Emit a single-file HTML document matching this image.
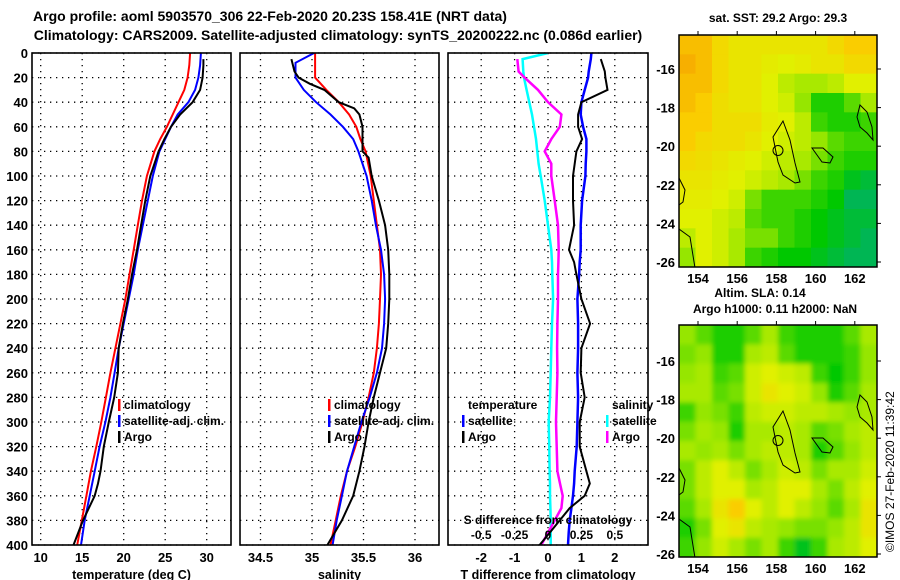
<!DOCTYPE html>
<html><head><meta charset="utf-8">
<style>
html,body{margin:0;padding:0;background:#fff;}
svg{display:block;font-family:"Liberation Sans",Arial,sans-serif;font-weight:bold;}
</style></head>
<body>
<svg id="fig" width="900" height="580" viewBox="0 0 900 580">
<defs>
<clipPath id="c1"><rect x="32" y="53" width="199" height="492"/></clipPath>
<clipPath id="c2"><rect x="240" y="53" width="199" height="492"/></clipPath>
<clipPath id="c3"><rect x="448" y="53" width="200" height="492"/></clipPath>
<clipPath id="m1c"><rect x="679" y="35" width="198" height="232"/></clipPath>
<clipPath id="m2c"><rect x="679" y="325" width="198" height="232"/></clipPath>
<filter id="bl" x="-5%" y="-5%" width="110%" height="110%"><feGaussianBlur stdDeviation="2.5"/></filter>
</defs>
<text x="270" y="21" font-size="14" text-anchor="middle">Argo profile: aoml 5903570_306 22-Feb-2020 20.23S 158.41E (NRT data)</text>
<text x="338" y="40" font-size="14" text-anchor="middle">Climatology: CARS2009. Satellite-adjusted climatology: synTS_20200222.nc (0.086d earlier)</text>
<g id="p1"></g>
<g id="p2"></g>
<g id="p3"></g>
<g id="m1"></g>
<g id="m2"></g>
<text x="778" y="22" font-size="12" text-anchor="middle">sat. SST: 29.2 Argo: 29.3</text>
<text x="760" y="297" font-size="12" text-anchor="middle">Altim. SLA: 0.14</text>
<text x="775" y="313" font-size="12" text-anchor="middle">Argo h1000: 0.11 h2000: NaN</text>
<text transform="translate(894,552) rotate(-90)" font-size="12" font-weight="normal">©IMOS 27-Feb-2020 11:39:42</text>
</svg>
<script>
// ---- data ----
const depthT = [0,10,20,30,40,50,60,70,80,100,120,140,160,180,200,220,240,260,280,300,320,340,360,380,400];
const tempClim = [28.0,27.9,27.7,27.3,26.6,25.9,25.2,24.4,23.7,22.8,22.2,21.7,21.2,20.7,20.2,19.6,19.0,18.4,17.85,17.3,16.7,16.05,15.5,14.95,14.4];
const tempSat = [29.3,29.2,29.0,28.6,27.8,26.5,25.7,25.0,24.3,23.5,22.9,22.3,21.7,21.2,20.6,20.0,19.4,18.9,18.4,17.8,17.1,16.5,15.9,15.3,14.85];
const depthA = [5,10,20,30,40,50,60,70,80,100,120,140,160,180,200,220,240,260,280,300,320,340,350,360,380,400];
const tempArgo = [29.6,29.6,29.5,29.2,28.3,26.8,25.7,24.9,24.2,23.2,22.6,22.1,21.6,21.0,20.5,19.9,19.4,19.3,18.85,18.2,17.6,17.2,16.9,16.5,15.1,13.95];
const depthS = [0,8,20,30,40,50,60,70,80,100,120,140,160,180,200,220,240,260,280,300,320,340,360,380,400];
const salClim = [35.03,35.03,35.03,35.14,35.26,35.36,35.43,35.47,35.52,35.57,35.6,35.63,35.66,35.67,35.66,35.65,35.63,35.6,35.55,35.49,35.42,35.34,35.28,35.23,35.18];
const salSat = [35.02,34.84,34.84,34.92,35.04,35.18,35.3,35.4,35.45,35.53,35.58,35.62,35.67,35.7,35.71,35.7,35.68,35.63,35.56,35.48,35.41,35.34,35.29,35.24,35.2];
const depthSA = [5,15,20,25,30,40,45,50,60,80,85,100,120,140,160,180,200,220,240,260,280,300,320,340,360,380,400];
const salArgo = [34.8,34.83,34.87,34.98,35.12,35.26,35.41,35.46,35.49,35.49,35.55,35.58,35.65,35.71,35.74,35.75,35.75,35.74,35.72,35.66,35.6,35.55,35.51,35.46,35.4,35.29,35.15];
const depthD = [0,5,15,20,30,40,50,60,70,80,90,100,120,140,160,170,180,200,220,240,260,280,300,320,340,350,360,370,380,390,400];
const dTsat = [1.3,1.28,1.22,1.2,1.1,1.0,0.98,1.05,1.15,1.15,1.13,1.12,1.02,0.98,0.98,0.95,0.93,0.88,0.9,0.9,0.88,0.9,0.88,0.86,0.8,0.78,0.75,0.7,0.65,0.62,0.6];
const dTargo = [null,1.58,1.7,1.72,1.78,1.0,0.9,0.9,1.02,0.85,0.8,0.75,0.75,0.78,0.63,0.78,0.85,1.0,1.26,1.0,0.98,1.1,0.95,0.95,1.15,1.25,1.1,0.65,0.35,0.05,-0.25];
const dSsat = [0,-0.19,-0.185,-0.18,-0.16,-0.14,-0.12,-0.105,-0.09,-0.08,-0.07,-0.055,-0.025,0,0.025,0.03,0.032,0.038,0.03,0.025,0.02,0.015,0.005,0.01,0.012,0.015,0.015,0.018,0.02,0.02,0.02];
const dSargo = [null,-0.23,-0.22,-0.175,-0.075,0,0.1,0.088,0.025,-0.025,0.025,0.025,0.05,0.075,0.08,0.078,0.075,0.075,0.07,0.068,0.07,0.065,0.06,0.065,0.07,0.09,0.11,0.1,0.05,0.0,-0.05];
const depthTicks = [0,20,40,60,80,100,120,140,160,180,200,220,240,260,280,300,320,340,360,380,400];
const tempTicks = [10,15,20,25,30];
const salTicks = [34.5,35,35.5,36];
const salTickLabels = ["34.5","35","35.5","36"];
const dTTicks = [-2,-1,0,1,2];
const dSTicks = [-0.5,-0.25,0,0.25,0.5];
const dSTickLabels = ["-0.5","-0.25","0","0.25","0.5"];
const lonTicks = [154,156,158,160,162];
const latTicks = [-16,-18,-20,-22,-24,-26];
const sstGrid = [
[0.9,0.9,0.8,0.75,0.75,0.75,0.75,0.75,0.75,0.8,0.85,0.85],
[0.95,0.9,0.8,0.75,0.75,0.72,0.7,0.72,0.75,0.75,0.8,0.8],
[0.9,0.9,0.8,0.75,0.75,0.7,0.6,0.55,0.55,0.6,0.7,0.7],
[0.9,0.85,0.78,0.75,0.75,0.7,0.65,0.5,0.3,0.3,0.4,0.55],
[0.85,0.85,0.78,0.78,0.78,0.72,0.7,0.6,0.35,0.3,0.3,0.35],
[0.85,0.8,0.78,0.78,0.75,0.7,0.65,0.6,0.5,0.4,0.35,0.35],
[0.8,0.78,0.75,0.72,0.7,0.65,0.6,0.55,0.45,0.35,0.3,0.3],
[0.75,0.75,0.72,0.7,0.65,0.6,0.55,0.45,0.35,0.3,0.2,0.15],
[0.72,0.72,0.7,0.65,0.45,0.35,0.35,0.35,0.3,0.25,0.1,0.1],
[0.7,0.7,0.65,0.6,0.4,0.35,0.35,0.3,0.25,0.2,0.15,0.15],
[0.6,0.7,0.65,0.55,0.45,0.45,0.35,0.3,0.25,0.2,0.15,0.1],
[0.5,0.7,0.65,0.55,0.35,0.3,0.25,0.25,0.2,0.15,0.1,0.1]];
const slaGrid = [
[0.5,0.4,0.3,0.3,0.4,0.55,0.35,0.3,0.3,0.3,0.4,0.55],
[0.45,0.5,0.3,0.3,0.55,0.6,0.4,0.3,0.3,0.3,0.35,0.5],
[0.5,0.55,0.35,0.4,0.65,0.7,0.65,0.6,0.35,0.25,0.35,0.5],
[0.55,0.55,0.4,0.45,0.65,0.75,0.7,0.65,0.5,0.3,0.4,0.55],
[0.35,0.5,0.45,0.35,0.6,0.65,0.65,0.6,0.6,0.55,0.5,0.55],
[0.45,0.55,0.5,0.3,0.55,0.55,0.6,0.55,0.4,0.45,0.55,0.6],
[0.55,0.5,0.55,0.45,0.55,0.6,0.6,0.55,0.3,0.4,0.5,0.6],
[0.45,0.6,0.7,0.6,0.45,0.55,0.65,0.6,0.45,0.55,0.55,0.65],
[0.45,0.6,0.7,0.7,0.55,0.6,0.7,0.7,0.55,0.45,0.6,0.7],
[0.4,0.55,0.75,0.85,0.7,0.6,0.7,0.6,0.5,0.4,0.55,0.75],
[0.3,0.45,0.7,0.75,0.6,0.55,0.5,0.45,0.45,0.5,0.6,0.75],
[0.35,0.5,0.65,0.55,0.45,0.55,0.35,0.2,0.35,0.55,0.6,0.7]];

const NS='http://www.w3.org/2000/svg';
function mk(parent,tag,attrs){const e=document.createElementNS(NS,tag);for(const k in attrs)e.setAttribute(k,attrs[k]);parent.appendChild(e);return e;}
const yD = d => 53 + d*1.23;
const plotTop=53, plotBot=545;

function panel(g,x0,x1,xs,xTicks,xLabels,xTitle){
  xTicks.forEach(t=>{const l=mk(g,'line',{x1:xs(t),x2:xs(t),y1:plotTop,y2:plotBot,stroke:'#000','stroke-width':1.3,'stroke-dasharray':'1.3 4.7'});
    
    });
  depthTicks.forEach(d=>{const l=mk(g,'line',{x1:x0,x2:x1,y1:yD(d),y2:yD(d),stroke:'#000','stroke-width':1.3,'stroke-dasharray':'1.3 4.7'});
    
    });
  xTicks.forEach((t,i)=>{const tx=mk(g,'text',{x:xs(t),y:562,'font-size':13,'text-anchor':'middle'});tx.textContent=xLabels[i];
    
    });
  const tt=mk(g,'text',{x:(x0+x1)/2,y:579,'font-size':12.5,'text-anchor':'middle'});tt.textContent=xTitle;
  
  
}
function frame(g,x0,x1){const r=mk(g,'rect',{x:x0,y:plotTop,width:x1-x0,height:plotBot-plotTop,fill:'none',stroke:'#000','stroke-width':1.6});
  
  }
function line(g,xs,depths,vals,color,w,clip,name){
  let pts=[];depths.forEach((d,i)=>{if(vals[i]!==null)pts.push(xs(vals[i]).toFixed(1)+','+yD(d).toFixed(1));});
  const p=mk(g,'polyline',{points:pts.join(' '),fill:'none',stroke:color,'stroke-width':w,'clip-path':'url(#'+clip+')'});
  
  
}
function legend(g,x,y,items){
  items.forEach((it,i)=>{
    if(it[0]){const r=mk(g,'rect',{x:x,y:y+i*16-10,width:2.5,height:12,fill:it[0]});
      
      }
    const t=mk(g,'text',{x:x+(it[2]||6),y:y+i*16,'font-size':12});t.textContent=it[1];
    
    
  });
}
// Panel 1
const p1=document.getElementById('p1');
const xT = t => 40.7 + (t-10)*8.3;
panel(p1,32,231,xT,tempTicks,tempTicks.map(String),'temperature (deg C)');
depthTicks.forEach(d=>{const t=mk(p1,'text',{x:28,y:yD(d)+5,'font-size':13,'text-anchor':'end'});t.textContent=d;
  
  });
line(p1,xT,depthT,tempClim,'#f00',2,'c1','temp-climatology-line');
line(p1,xT,depthT,tempSat,'#00f',2,'c1','temp-satellite-line');
line(p1,xT,depthA,tempArgo,'#000',2,'c1','temp-argo-line');
frame(p1,32,231);
legend(p1,118,409,[['#f00','climatology'],['#00f','satellite-adj. clim.'],['#000','Argo']]);
// Panel 2
const p2=document.getElementById('p2');
const xS = s => 312 + (s-35)*103;
panel(p2,240,439,xS,salTicks,salTickLabels,'salinity');
line(p2,xS,depthS,salClim,'#f00',2,'c2','sal-climatology-line');
line(p2,xS,depthS,salSat,'#00f',2,'c2','sal-satellite-line');
line(p2,xS,depthSA,salArgo,'#000',2,'c2','sal-argo-line');
frame(p2,240,439);
legend(p2,328,409,[['#f00','climatology'],['#00f','satellite-adj. clim.'],['#000','Argo']]);
// Panel 3
const p3=document.getElementById('p3');
const xDT = v => 548 + v*33.4;
const xDS = v => 548 + v*4*33.4;
panel(p3,448,648,xDT,dTTicks,dTTicks.map(String),'T difference from climatology');
line(p3,xDS,depthD,dSsat,'#0ff',2.5,'c3','sal-diff-satellite-line');
line(p3,xDS,depthD,dSargo,'#f0f',2.5,'c3','sal-diff-argo-line');
line(p3,xDT,depthD,dTsat,'#00f',2.5,'c3','temp-diff-satellite-line');
line(p3,xDT,depthD,dTargo,'#000',2,'c3','temp-diff-argo-line');
frame(p3,448,648);
legend(p3,462,409,[[null,'temperature',6],['#00f','satellite'],['#000','Argo']]);
legend(p3,606,409,[[null,'salinity',6],['#0ff','satellite'],['#f0f','Argo']]);
{const t=mk(p3,'text',{x:548,y:524,'font-size':12,'text-anchor':'middle'});t.textContent='S difference from climatology';
 
 }
dSTicks.forEach((v,i)=>{const t=mk(p3,'text',{x:xDS(v),y:539,'font-size':12,'text-anchor':'middle'});t.textContent=dSTickLabels[i];
  
  });

// Maps
function col(v){
  const st=[[0,0,170,140],[0.25,0,200,0],[0.5,150,230,0],[0.7,225,240,0],[0.85,250,205,0],[1,245,160,0]];
  for(let i=1;i<st.length;i++){if(v<=st[i][0]){const a=st[i-1],b=st[i],f=(v-a[0])/(b[0]-a[0]);
    return 'rgb('+[1,2,3].map(k=>Math.round(a[k]+(b[k]-a[k])*f)).join(',')+')';}}
  return 'rgb(245,160,0)';
}
const xLon = (lon) => 698 + (lon-154)*19.6;
function drawMap(g,y0,grid,clip,blur,mapname,latOff){
  const x0=679,w=198,h=232,cw=w/grid[0].length,ch=h/grid.length;
  const yLat = lat => y0 + latOff + (-16-lat)*19.3;
  const cells=mk(g,'g',{'clip-path':'url(#'+clip+')'});
  const inner=mk(cells,'g',blur?{filter:'url(#bl)'}:{});
  
  
  grid.forEach((row,r)=>row.forEach((v,c)=>{
    const rc=mk(inner,'rect',{x:x0+c*cw-(blur&&c==0?10:0),y:y0+r*ch-(blur&&r==0?10:0),width:cw+0.6+(blur&&(c==0||c==row.length-1)?10:0),height:ch+0.6+(blur&&(r==0||r==grid.length-1)?10:0),fill:col(v)});
    
    
  }));
  const o=y0-35;
  const coast=[
    [[783,121],[790,140],[795,163],[800,182],[795,183],[783,175],[778,162],[773,137]],
    [[812,148],[823,148],[833,157],[830,163],[822,162],[817,155]],
    [[860,105],[867,112],[872,127],[873,140],[867,133],[860,127],[857,117]]
  ];
  coast.forEach(pts=>{const p=mk(cells,'polygon',{points:pts.map(q=>q[0]+','+(q[1]+o)).join(' '),fill:'none',stroke:'#000','stroke-width':1});
    
    });
  [[[679,178],[685,190],[683,202],[679,205]],[[679,229],[690,237],[695,268]]].forEach(pts=>{
    const p=mk(cells,'polyline',{points:pts.map(q=>q[0]+','+(q[1]+o)).join(' '),fill:'none',stroke:'#000','stroke-width':1});
    
    });
  const pos=mk(cells,'circle',{cx:778,cy:150.5+o,r:5,fill:'none',stroke:'#000','stroke-width':1});
  
  
  const fr=mk(g,'rect',{x:x0,y:y0,width:w,height:h,fill:'none',stroke:'#000','stroke-width':1.5});
  
  
  latTicks.forEach(lat=>{const t=mk(g,'text',{x:675,y:yLat(lat)+5,'font-size':13,'text-anchor':'end'});t.textContent=lat;
    
    
    const tk=mk(g,'line',{x1:877,x2:881,y1:yLat(lat),y2:yLat(lat),stroke:'#000'});
    
    });
  lonTicks.forEach(lon=>{const t=mk(g,'text',{x:xLon(lon),y:y0+h+16,'font-size':13,'text-anchor':'middle'});t.textContent=lon;
    
    
    const tk=mk(g,'line',{x1:xLon(lon),x2:xLon(lon),y1:y0-4,y2:y0,stroke:'#000'});
    
    });
}
drawMap(document.getElementById('m1'),35,sstGrid,'m1c',false,'sst',34);
drawMap(document.getElementById('m2'),325,slaGrid,'m2c',true,'sla',36);
</script>
</body></html>
